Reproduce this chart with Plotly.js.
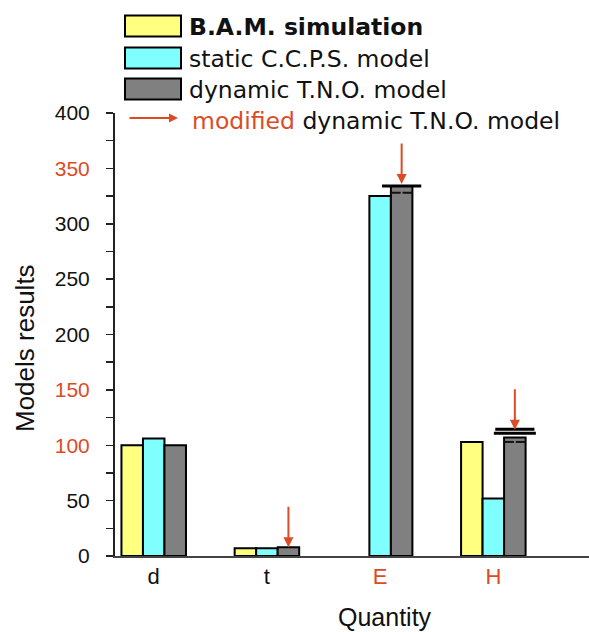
<!DOCTYPE html>
<html>
<head>
<meta charset="utf-8">
<script src="https://cdn.plot.ly/plotly-3.0.1.min.js"></script>
<style>html,body{margin:0;padding:0;background:#fff;}#chart{width:589px;height:632px;}</style>
</head>
<body>
<div id="chart"></div>
<script>
// ---- data ----
var categories = ["d", "t", "E", "H"];
var redCategories = ["E", "H"];
var bamSimulation = [100, 7, null, 103];
var staticCCPS = [106, 7, 325, 52];
var dynamicTNO = [100, 8, 334, 107];
var modifiedTip = [null, 8, 336, 114];
var modifiedCapHigh = [null, null, 334, 114.4];
var modifiedCapLow = [null, null, null, 110.8];
var originalTop = [null, null, 328, 103];
var yTickValues = [0, 50, 100, 150, 200, 250, 300, 350, 400];
var redYTicks = [100, 150, 350];
var seriesNames = ["B.A.M. simulation", "static C.C.P.S. model", "dynamic T.N.O. model", "modified dynamic T.N.O. model"];

// ---- style ----
var RED = "#dc4b26";
var colors = ["#ffff80", "#80ffff", "#808080"];
var W = 589, H = 632;
var mL = 115, mR = 0, mT = 113, mB = 76;
var pw = W - mL - mR, ph = H - mT - mB;
function px(x) { return (x - mL) / pw; }
function py(y) { return (H - mB - y) / ph; }

var bargap = 0.43;
var barW = (1 - bargap) / 3;
var idx = categories.map(function (c, i) { return i; });

function barTrace(name, vals, color) {
  return {
    type: "bar", name: name, x: idx, y: vals,
    marker: { color: color, line: { color: "#000", width: 2 } },
    showlegend: false, hoverinfo: "skip"
  };
}

var traces = [
  barTrace(seriesNames[0], bamSimulation, colors[0]),
  barTrace(seriesNames[1], staticCCPS, colors[1]),
  barTrace(seriesNames[2], dynamicTNO, colors[2])
];

var grayX = idx.map(function (i) { return i + barW; });
traces.push({
  type: "scatter", mode: "markers", x: grayX, y: modifiedCapHigh, showlegend: false, hoverinfo: "skip",
  marker: { symbol: "line-ew", size: 28, line: { color: "#000", width: 3 } }
});
traces.push({
  type: "scatter", mode: "markers", x: grayX, y: modifiedCapLow, showlegend: false, hoverinfo: "skip",
  marker: { symbol: "line-ew", size: 30, line: { color: "#000", width: 3 } }
});
var dashX = [], dashY = [];
originalTop.forEach(function (v, i) {
  if (v !== null) {
    dashX.push(i + barW - barW * 0.27); dashY.push(v);
    dashX.push(i + barW + barW * 0.27); dashY.push(v);
  }
});
traces.push({
  type: "scatter", mode: "markers", x: dashX, y: dashY, showlegend: false, hoverinfo: "skip",
  marker: { symbol: "line-ew", size: 7, line: { color: "#111", width: 2 } }
});

var annotations = [];
modifiedTip.forEach(function (v, i) {
  if (v !== null) {
    annotations.push({
      x: i + barW, y: v, xref: "x", yref: "y", text: "", showarrow: true,
      ax: 0, ay: -42, arrowhead: 2, arrowsize: 1, arrowwidth: 2, arrowcolor: RED, standoff: 0
    });
  }
});

// axis titles
annotations.push({
  xref: "paper", yref: "paper", x: px(25), y: py(348), text: "Models results", textangle: -90,
  showarrow: false, xanchor: "center", yanchor: "middle",
  font: { family: "Liberation Sans, Arial, sans-serif", size: 26, color: "#111" }
});
annotations.push({
  xref: "paper", yref: "paper", x: px(385), y: py(617), text: "Quantity",
  showarrow: false, xanchor: "center", yanchor: "middle",
  font: { family: "Liberation Sans, Arial, sans-serif", size: 25, color: "#111" }
});

// legend
var shapes = [];
var legendRows = [26, 58, 89];
legendRows.forEach(function (cy, k) {
  shapes.push({
    type: "rect", xref: "paper", yref: "paper",
    x0: px(125), x1: px(181), y0: py(cy - 10.5), y1: py(cy + 10.5),
    fillcolor: colors[k], line: { color: "#000", width: 2 }
  });
  annotations.push({
    xref: "paper", yref: "paper", x: px(187), y: py(cy + 1), xanchor: "left", yanchor: "middle",
    showarrow: false,
    text: k === 0 ? "<b>" + seriesNames[k] + "</b>" : seriesNames[k],
    font: { family: "DejaVu Sans, Verdana, sans-serif", size: 23.5, color: "#111" }
  });
});
annotations.push({
  xref: "paper", yref: "paper", x: px(178), y: py(118), text: "", showarrow: true,
  ax: -50, ay: 0, arrowhead: 2, arrowsize: 0.9, arrowwidth: 2, arrowcolor: RED, standoff: 0
});
annotations.push({
  xref: "paper", yref: "paper", x: px(190), y: py(121), xanchor: "left", yanchor: "middle",
  showarrow: false,
  text: '<span style="color:' + RED + '">modified</span>' + seriesNames[3].replace("modified", ""),
  font: { family: "DejaVu Sans, Verdana, sans-serif", size: 23.5, color: "#111" }
});

var yTickText = yTickValues.map(function (v) {
  return redYTicks.indexOf(v) >= 0 ? '<span style="color:' + RED + '">' + v + '</span>' : String(v);
});
var minorVals = [];
for (var k = 0; k < yTickValues.length - 1; k++) minorVals.push((yTickValues[k] + yTickValues[k + 1]) / 2);
var xTickText = categories.map(function (c) {
  return redCategories.indexOf(c) >= 0 ? '<span style="color:' + RED + '">' + c + '</span>' : c;
});

var layout = {
  width: W, height: H,
  margin: { l: mL, r: mR, t: mT, b: mB, pad: 0 },
  paper_bgcolor: "#fff", plot_bgcolor: "#fff",
  barmode: "group", bargap: bargap, bargroupgap: 0,
  showlegend: false,
  xaxis: {
    range: [-0.342, 3.845], tickmode: "array", tickvals: idx, ticktext: xTickText,
    showline: true, linecolor: "#444", linewidth: 2, ticks: "", showgrid: false, zeroline: false,
    ticklabelstandoff: 0,
    tickfont: { family: "Liberation Sans, Arial, sans-serif", size: 22, color: "#111" }
  },
  yaxis: {
    range: [0, 400], tickmode: "array", tickvals: yTickValues, ticktext: yTickText,
    showline: true, linecolor: "#222", linewidth: 2, ticks: "outside", ticklen: 7, tickwidth: 1.5,
    tickcolor: "#222", showgrid: false, zeroline: false, ticklabelstandoff: 12,
    minor: { tickmode: "array", tickvals: minorVals, ticks: "outside", ticklen: 7, tickwidth: 1.5, tickcolor: "#222", showgrid: false },
    tickfont: { family: "Liberation Sans, Arial, sans-serif", size: 21, color: "#111" }
  },
  shapes: shapes,
  annotations: annotations
};

Plotly.newPlot("chart", traces, layout, { displayModeBar: false, staticPlot: true });
</script>
</body>
</html>
